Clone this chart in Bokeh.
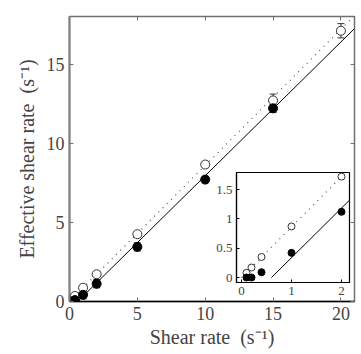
from bokeh.plotting import figure
from bokeh.models import (Range1d, Whisker, ColumnDataSource, FixedTicker, TeeHead,
                          LinearAxis, CustomLabelingPolicy)
from bokeh.embed import file_html
from bokeh.resources import INLINE

# ---- data ----
shear = [0.1, 0.2, 0.4, 1, 2, 5, 10, 15, 20]
eff_open = [0.08, 0.17, 0.35, 0.87, 1.72, 4.25, 8.65, 12.7, 17.1]
err_open = [0.0, 0.0, 0.0, 0.15, 0.15, 0.15, 0.2, 0.4, 0.45]
shear_f = [0.1, 0.2, 0.4, 1, 2, 5, 10, 15]
eff_filled = [0.0, 0.0, 0.09, 0.42, 1.12, 3.45, 7.7, 12.2]
err_filled = [0.0, 0.0, 0.0, 0.25, 0.25, 0.25, 0.2, 0.25]
slope_open = 0.86
slope_filled = 0.845
x0_filled = 0.6
x_ticks = [0, 5, 10, 15, 20]
y_ticks = [0, 5, 10, 15]
inset_x_ticks = [0, 1, 2]
inset_y_ticks = [0, 0.5, 1, 1.5]

FONT = "Liberation Serif"
XMAX = 21

so = ColumnDataSource(dict(x=shear, y=eff_open,
                           lo=[a - b for a, b in zip(eff_open, err_open)],
                           hi=[a + b for a, b in zip(eff_open, err_open)]))
sf = ColumnDataSource(dict(x=shear_f, y=eff_filled,
                           lo=[a - b for a, b in zip(eff_filled, err_filled)],
                           hi=[a + b for a, b in zip(eff_filled, err_filled)]))

p = figure(width=361, height=354, output_backend="svg", toolbar_location=None,
           x_range=Range1d(0, XMAX), y_range=Range1d(0, 18),
           min_border_left=69, min_border_top=16, min_border_right=7, min_border_bottom=53)
p.grid.visible = False
p.outline_line_color = "#707070"
p.outline_line_width = 1.5

for ax in (p.xaxis[0], p.yaxis[0]):
    ax.major_label_text_font = FONT
    ax.major_label_text_font_size = "18px"
    ax.axis_label_text_font = FONT
    ax.axis_label_text_font_size = "20px"
    ax.axis_label_text_font_style = "normal"
    ax.major_tick_in = 4
    ax.major_tick_out = 0
    ax.minor_tick_line_color = None
    ax.major_tick_line_color = "#707070"
p.xaxis[0].ticker = FixedTicker(ticks=x_ticks)
p.yaxis[0].ticker = FixedTicker(ticks=y_ticks)
p.xaxis[0].axis_label = "Shear rate\u00a0 (s\u207b\u00b9)"
p.yaxis[0].axis_label = "Effective shear rate\u00a0 (s\u207b\u00b9)"
p.xaxis[0].axis_line_color = "black"
p.xaxis[0].axis_line_width = 1.5
p.yaxis[0].axis_line_color = "#808080"
p.yaxis[0].axis_line_width = 2
p.xaxis[0].major_label_standoff = 5
p.yaxis[0].major_label_standoff = 5
p.xaxis[0].axis_label_standoff = 3
p.yaxis[0].axis_label_standoff = 6

# mirror ticks on top and right (labels suppressed)
hide_all = CustomLabelingPolicy(code="for (const i of [...indices]) indices.unset(i); return indices")
mirror = dict(major_label_policy=hide_all, major_label_text_font_size="0px",
              major_label_standoff=0, axis_line_color=None, major_tick_in=4,
              major_tick_out=0, major_tick_line_color="#707070", minor_tick_line_color=None)
p.add_layout(LinearAxis(ticker=FixedTicker(ticks=x_ticks), **mirror), "above")
p.add_layout(LinearAxis(ticker=FixedTicker(ticks=y_ticks), **mirror), "right")

# fit lines
p.line([0, XMAX], [0, slope_open * XMAX], line_color="#555555", line_dash="1 5", line_width=1.2)
p.line([x0_filled, XMAX], [0, slope_filled * (XMAX - x0_filled)], line_color="black", line_width=1)

for src, col in ((so, "#333333"), (sf, "black")):
    p.add_layout(Whisker(source=src, base="x", lower="lo", upper="hi", line_color=col,
                         upper_head=TeeHead(size=7, line_color=col),
                         lower_head=TeeHead(size=7, line_color=col)))

p.scatter("x", "y", source=so, size=9, marker="circle", fill_color="white",
          line_color="#333333", line_width=1)
p.scatter("x", "y", source=sf, size=9, marker="circle", fill_color="black", line_color="black")

# ---- inset ----
IXR = (-0.1, 2.16)
IYR = (-0.085, 1.79)
q = figure(width=147, height=136, output_backend="svg", toolbar_location=None,
           x_range=Range1d(*IXR), y_range=Range1d(*IYR),
           min_border_left=30, min_border_top=4, min_border_right=4, min_border_bottom=22,
           styles={"position": "absolute", "left": "206px", "top": "168px"})
q.grid.visible = False
q.border_fill_alpha = 0
q.background_fill_color = "white"
q.outline_line_color = "black"
q.outline_line_width = 1.2
for ax in (q.xaxis[0], q.yaxis[0]):
    ax.major_label_text_font = FONT
    ax.major_label_text_font_size = "13px"
    ax.major_tick_in = 3
    ax.major_tick_out = 0
    ax.minor_tick_line_color = None
    ax.axis_line_color = "black"
    ax.axis_line_width = 1.2
    ax.major_label_standoff = 4
q.xaxis[0].ticker = FixedTicker(ticks=inset_x_ticks)
q.yaxis[0].ticker = FixedTicker(ticks=inset_y_ticks)
q.line([0, IXR[1]], [0, slope_open * IXR[1]], line_color="#555555", line_dash="1 5", line_width=1.2)
q.line([x0_filled, IXR[1]], [0, slope_filled * (IXR[1] - x0_filled)], line_color="black", line_width=1)
q.scatter("x", "y", source=so, size=7, marker="circle", fill_color="white",
          line_color="#333333", line_width=1)
q.scatter("x", "y", source=sf, size=7, marker="circle", fill_color="black", line_color="black")

open("out.html", "w").write(file_html([p, q], INLINE))
